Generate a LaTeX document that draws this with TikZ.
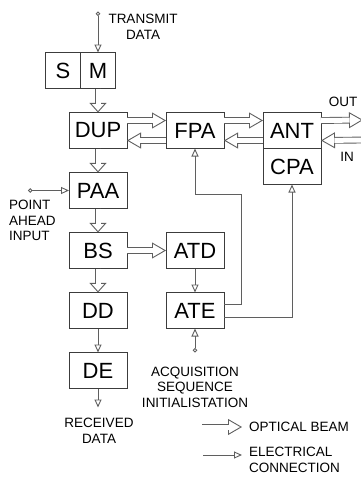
\documentclass[tikz,border=0pt]{standalone}
\usepackage{fontspec}
\setmainfont{Liberation Sans}
\usepackage{tikz}
\usetikzlibrary{positioning,arrows.meta}
\definecolor{edge}{RGB}{60,60,60}
\definecolor{wire}{RGB}{95,95,95}
% optical beam: head, outer stroke, white core
\newcommand\optbeam[2]{%
  \draw[beamtip] #1 -- #2;
  \draw[beamouter] #1 -- #2;
  \draw[beamcore] #1 -- #2;}
\newcommand\optbeamv[2]{%
  \draw[beamtipv] #1 -- #2;
  \draw[beamouter,shorten >=9pt] #1 -- #2;
  \draw[beamcore,shorten >=9pt] #1 -- #2;}

\begin{document}
\begin{tikzpicture}[x=1pt,y=-1pt,node distance=24pt and 39pt,
  blk/.style={draw=edge,line width=0.9pt,minimum width=58pt,minimum height=36pt,
              inner sep=0pt,outer sep=0pt,font=\fontsize{22}{24}\selectfont},
  half/.style={blk,minimum width=35pt},
  lbl/.style={align=center,inner sep=0pt,font=\fontsize{13.5}{15.5}\selectfont},
  beamtip/.style={draw=wire,line width=0.9pt,
                  -{Triangle[width=16pt,length=14pt,fill=white]}},
  beamtipv/.style={draw=wire,line width=0.9pt,
                  -{Triangle[width=17pt,length=9.6pt,fill=white]}},
  beamouter/.style={draw=wire,line width=6.8pt,shorten >=13.4pt},
  beamcore/.style={draw=white,line width=5pt,shorten >=13.4pt},
  elec/.style={draw=wire,line width=0.9pt,-{Triangle[open,width=7pt,length=8pt]}},
  src/.style={elec,{Circle[open,length=4.5pt,fill=white]}-{Triangle[open,width=7pt,length=8pt]}}]
  \useasboundingbox (0,0) rectangle (360,482);
  % blocks
  \node[blk] (dup) at (98,130.5) {DUP};
  \node[blk,right=of dup] (fpa) {FPA};
  \node[blk,right=of fpa] (ant) {ANT};
  \node[blk,below=0pt of ant] (cpa) {CPA};
  \node[half,above=of dup] (m) {M};
  \node[half,left=0pt of m] (s) {S};
  \node[blk,below=of dup] (paa) {PAA};
  \node[blk,below=of paa] (bs) {BS};
  \node[blk,right=of bs] (atd) {ATD};
  \node[blk,below=of atd] (ate) {ATE};
  \node[blk,below=of bs] (dd) {DD};
  \node[blk,below=of dd] (de) {DE};
  % free ends
  \coordinate[above=41pt of m.north] (tx);
  \coordinate[left=41pt of paa.west] (pa);
  \coordinate[below=24pt of ate.south] (acq);
  \coordinate[below=19pt of de.south] (rx);
  \coordinate (bend) at (241,194);
  \coordinate (outend) at (363,120);
  \coordinate (inbeg) at (365,140);
  % optical beams
  \optbeamv{(m.south)}{(dup.north)}
  \optbeam{([yshift=10pt]dup.east)}{([yshift=10pt]fpa.west)}
  \optbeam{([yshift=-10pt]fpa.west)}{([yshift=-10pt]dup.east)}
  \optbeam{([yshift=10pt]fpa.east)}{([yshift=10pt]ant.west)}
  \optbeam{([yshift=-10pt]ant.west)}{([yshift=-10pt]fpa.east)}
  \optbeam{([yshift=10pt]ant.east)}{(outend)}
  \optbeam{(inbeg)}{([yshift=-10pt]ant.east)}
  \optbeamv{(dup)}{(paa)}
  \optbeamv{(paa)}{(bs)}
  \optbeamv{(bs)}{(dd)}
  \optbeam{(bs)}{(atd)}
  % electrical connections
  \draw[src] (tx) -- (tx |- m.north);
  \draw[src] (pa) -- (paa.west);
  \draw[src] (acq) -- (ate.south);
  \draw[elec] (dd) -- (de);
  \draw[elec] (de) -- (rx);
  \draw[elec] (atd) -- (ate);
  \draw[elec] ([yshift=6pt]ate.east) -| (bend) -| (fpa.south);
  \draw[elec] ([yshift=-7pt]ate.east) -| (cpa.south);
  % labels
  \node[lbl] (txt) at (143,27) {TRANSMIT\\DATA};
  \node[lbl] (outt) at (343,102) {OUT};
  \node[lbl] (int) at (347,157) {IN};
  \node[lbl,align=left,anchor=north west] (pat) at (9,200) {POINT\\AHEAD\\INPUT};
  \node[lbl] (acqt) at (195,387) {ACQUISITION\\SEQUENCE\\INITIALISTATION};
  \node[lbl] (rxt) at (99,431) {RECEIVED\\DATA};
  % legend
  \coordinate (lga) at (202,427);
  \coordinate (lgb) at (242,427);
  \coordinate (lgc) at (203,455);
  \coordinate (lgd) at (242,455);
  \optbeam{(lga)}{(lgb)}
  \draw[elec] (lgc) -- (lgd);
  \node[lbl,anchor=west] (lgt1) at ([xshift=7pt]lgb) {OPTICAL BEAM};
  \node[lbl,align=left,anchor=north west] (lgt2) at ([xshift=7pt,yshift=8pt]lgd) {ELECTRICAL\\CONNECTION};
\end{tikzpicture}
\end{document}
